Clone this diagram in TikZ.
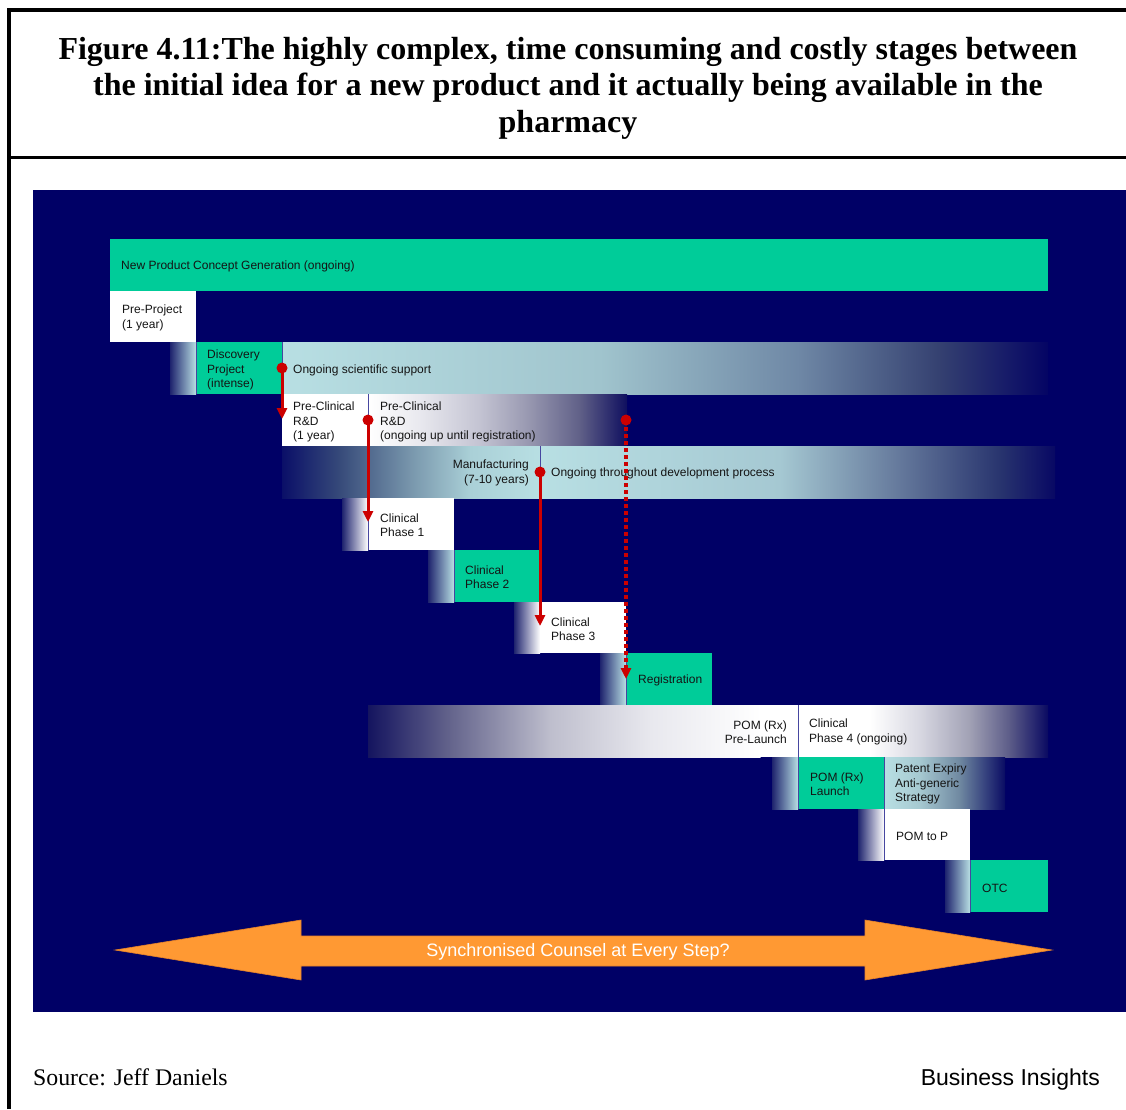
\documentclass[tikz,border=0pt]{standalone}
\usepackage{fontspec}
\setmainfont{Liberation Serif}
\newfontfamily\arialf{Liberation Sans}
\usetikzlibrary{arrows.meta}
\definecolor{navy}{RGB}{0,0,102}
\definecolor{grn}{RGB}{0,204,153}
\definecolor{cyl}{RGB}{184,223,227}
\definecolor{rd}{RGB}{204,0,0}
\definecolor{org}{RGB}{255,153,51}
\definecolor{orgd}{RGB}{230,130,40}
\definecolor{dvd}{RGB}{70,70,160}
\definecolor{txt}{RGB}{20,20,20}
\definecolor{lead0}{RGB}{30,35,110}
\definecolor{r3a}{RGB}{160,196,205}
\definecolor{r3b}{RGB}{110,135,165}
\definecolor{r3c}{RGB}{52,64,112}
\definecolor{r3d}{RGB}{4,4,100}
\definecolor{r4a}{RGB}{232,232,238}
\definecolor{r4b}{RGB}{195,195,210}
\definecolor{r4c}{RGB}{150,150,175}
\definecolor{r4d}{RGB}{95,95,135}
\definecolor{r4e}{RGB}{15,15,95}
\definecolor{m0}{RGB}{10,15,104}
\definecolor{m1}{RGB}{55,75,122}
\definecolor{m2}{RGB}{120,150,172}
\definecolor{m3}{RGB}{170,208,215}
\definecolor{o1}{RGB}{165,200,210}
\definecolor{o2}{RGB}{100,120,155}
\definecolor{o3}{RGB}{40,52,110}
\definecolor{o4}{RGB}{8,8,100}
\definecolor{p0}{RGB}{20,20,95}
\definecolor{p1}{RGB}{100,100,140}
\definecolor{p2}{RGB}{190,190,205}
\definecolor{p3}{RGB}{232,232,238}
\definecolor{q1}{RGB}{215,215,225}
\definecolor{q2}{RGB}{160,160,180}
\definecolor{q3}{RGB}{90,90,135}
\definecolor{q4}{RGB}{10,10,98}
\definecolor{t1}{RGB}{165,200,208}
\definecolor{t2}{RGB}{110,135,160}
\definecolor{t3}{RGB}{10,12,100}
\newcommand{\gseg}[6]{\shade[left color=#5, right color=#6] (#1,#3) rectangle (#2,#4);}
\begin{document}
\begin{tikzpicture}[x=1pt,y=-1pt,
  lbl/.style={font=\arialf\fontsize{12}{14.5}\selectfont, text=txt, inner sep=0pt, anchor=west, align=left},
  lblr/.style={lbl, anchor=east, align=right},
  divline/.style={draw=dvd, line width=1pt},
  redarrow/.style={draw=rd, line width=3pt, -{Triangle[width=10pt,length=11pt]}},
  reddots/.style={draw=rd, line width=3.5pt, dash pattern=on 3.5pt off 3.5pt, -{Triangle[width=10pt,length=11pt]}},
  reddot/.style={fill=rd}]
\useasboundingbox (0,0) rectangle (1126,1109);
\fill[white] (0,0) rectangle (1126,1109);
% frame
\draw[line width=4pt] (9,1109) -- (9,10) -- (1126,10);
\draw[line width=3pt] (9,157.5) -- (1126,157.5);
\node[font=\bfseries\fontsize{32}{36.5}\selectfont, align=center] (title) at (568,88)
 {Figure 4.11:The highly complex, time consuming and costly stages between\\
  the initial idea for a new product and it actually being available in the\\
  pharmacy};
% background
\fill[navy] (33,190) rectangle (1126,1012);
% row 1
\fill[grn] (110,239) rectangle (1048,291);
% row 2
\fill[white] (110,291) rectangle (196,342);
% row 3
\gseg{170}{196}{342}{394}{lead0}{cyl}
\fill[grn] (196,342) rectangle (282,394);
\gseg{282}{600.6}{342}{394}{cyl}{r3a}
\gseg{600}{800.6}{342}{394}{r3a}{r3b}
\gseg{800}{940.6}{342}{394}{r3b}{r3c}
\gseg{940}{1048}{342}{394}{r3c}{r3d}
% row 4
\fill[white] (282,394) rectangle (368,446);
\gseg{368}{420.6}{394}{446}{white}{r4a}
\gseg{420}{480.6}{394}{446}{r4a}{r4b}
\gseg{480}{530.6}{394}{446}{r4b}{r4c}
\gseg{530}{580.6}{394}{446}{r4c}{r4d}
\gseg{580}{627}{394}{446}{r4d}{r4e}
% row 5
\gseg{282}{340.6}{446}{498}{m0}{m1}
\gseg{340}{410.6}{446}{498}{m1}{m2}
\gseg{410}{470.6}{446}{498}{m2}{m3}
\gseg{470}{540.6}{446}{498}{m3}{cyl}
\gseg{540}{780.6}{446}{498}{cyl}{o1}
\gseg{780}{900.6}{446}{498}{o1}{o2}
\gseg{900}{1000.6}{446}{498}{o2}{o3}
\gseg{1000}{1055}{446}{498}{o3}{o4}
% row 6
\gseg{342}{368}{498}{550}{lead0}{white}
\fill[white] (368,498) rectangle (454,550);
% row 7
\gseg{428}{454}{550}{602}{lead0}{cyl}
\fill[grn] (454,550) rectangle (540,602);
% row 8
\gseg{514}{540}{602}{653}{lead0}{white}
\fill[white] (540,602) rectangle (626,653);
% row 9
\gseg{600}{626}{653}{705}{lead0}{cyl}
\fill[grn] (626,653) rectangle (712,705);
% row 10
\gseg{368}{450.6}{705}{757}{p0}{p1}
\gseg{450}{550.6}{705}{757}{p1}{p2}
\gseg{550}{650.6}{705}{757}{p2}{p3}
\gseg{650}{760.6}{705}{757}{p3}{white}
\fill[white] (760,705) rectangle (870,757);
\gseg{870}{920.6}{705}{757}{white}{q1}
\gseg{920}{970.6}{705}{757}{q1}{q2}
\gseg{970}{1010.6}{705}{757}{q2}{q3}
\gseg{1010}{1048}{705}{757}{q3}{q4}
% row 11
\gseg{772}{798}{757}{809}{lead0}{cyl}
\fill[grn] (798,757) rectangle (884,809);
\gseg{884}{920.6}{757}{809}{cyl}{t1}
\gseg{920}{960.6}{757}{809}{t1}{t2}
\gseg{960}{1005}{757}{809}{t2}{t3}
% row 12
\gseg{858}{884}{809}{860}{lead0}{white}
\fill[white] (884,809) rectangle (970,860);
% row 13
\gseg{945}{970}{860}{912}{lead0}{cyl}
\fill[grn] (970,860) rectangle (1048,912);
% dividers
\draw[divline] (196,342) -- (196,394);
\draw[divline] (282,342) -- (282,394);
\draw[divline] (368,394) -- (368,446);
\draw[divline] (540,446) -- (540,498);
\draw[divline] (368,498) -- (368,550);
\draw[divline] (454,550) -- (454,602);
\draw[divline] (626,653) -- (626,705);
\draw[divline] (798,705) -- (798,809);
\draw[divline] (884,757) -- (884,860);
\draw[divline] (970,860) -- (970,912);
% labels
\node[lbl] (npc) at (121,266) {New Product Concept Generation (ongoing)};
\node[lbl] (pp) at (122,318) {Pre-Project\\(1 year)};
\node[lbl] (disc) at (207,370) {Discovery\\Project\\(intense)};
\node[lbl] (oss) at (293,370) {Ongoing scientific support};
\node[lbl] (pcr1) at (293,422) {Pre-Clinical\\R\&D\\(1 year)};
\node[lbl] (pcr2) at (380,422) {Pre-Clinical\\R\&D\\(ongoing up until registration)};
\node[lblr] (manu) at (529,473) {Manufacturing\\(7-10 years)};
\node[lbl] (otdp) at (551,473) {Ongoing throughout development process};
\node[lbl] (cp1) at (380,525) {Clinical\\Phase 1};
\node[lbl] (cp2) at (465,577) {Clinical\\Phase 2};
\node[lbl] (cp3) at (551,629) {Clinical\\Phase 3};
\node[lbl] (reg) at (638,680) {Registration};
\node[lblr] (pompre) at (787,732) {POM (Rx)\\Pre-Launch};
\node[lbl] (cp4) at (809,732) {Clinical\\Phase 4 (ongoing)};
\node[lbl] (pomlaunch) at (810,784) {POM (Rx)\\Launch};
\node[lbl] (patent) at (895,784) {Patent Expiry\\Anti-generic\\Strategy};
\node[lbl] (pomp) at (896,836) {POM to P};
\node[lbl] (otc) at (982,888) {OTC};
% red arrows
\coordinate (d1) at (282,368); \coordinate (e1) at (282,419);
\coordinate (d2) at (368,420); \coordinate (e2) at (368,522);
\coordinate (d3) at (540,472); \coordinate (e3) at (540,626);
\coordinate (d4) at (626,420); \coordinate (e4) at (626,679);
\draw[redarrow] (d1) -- (e1);
\draw[redarrow] (d2) -- (e2);
\draw[redarrow] (d3) -- (e3);
\draw[reddots] ([yshift=-7pt]d4) -- (e4);
\foreach \d in {d1,d2,d3,d4} \fill[reddot] (\d) circle[radius=5.5pt];
% orange double arrow
\fill[org, draw=orgd, line width=0.6pt] (115,950) -- (301,920) -- (301,936) -- (865,936) -- (865,920)
  -- (1052,950) -- (865,980) -- (865,966) -- (301,966) -- (301,980) -- cycle;
\node[font=\arialf\fontsize{18}{21}\selectfont, text=white, inner sep=0pt] (sync) at (578,952) {Synchronised Counsel at Every Step?};
% footer
\node[font=\fontsize{23.8}{28}\selectfont, anchor=base west, inner sep=0pt] (src) at (33,1085) {Source: Jeff Daniels};
\node[font=\arialf\fontsize{23}{27}\selectfont, anchor=base east, inner sep=0pt] (bi) at (1100,1085) {Business Insights};
\end{tikzpicture}
\end{document}
